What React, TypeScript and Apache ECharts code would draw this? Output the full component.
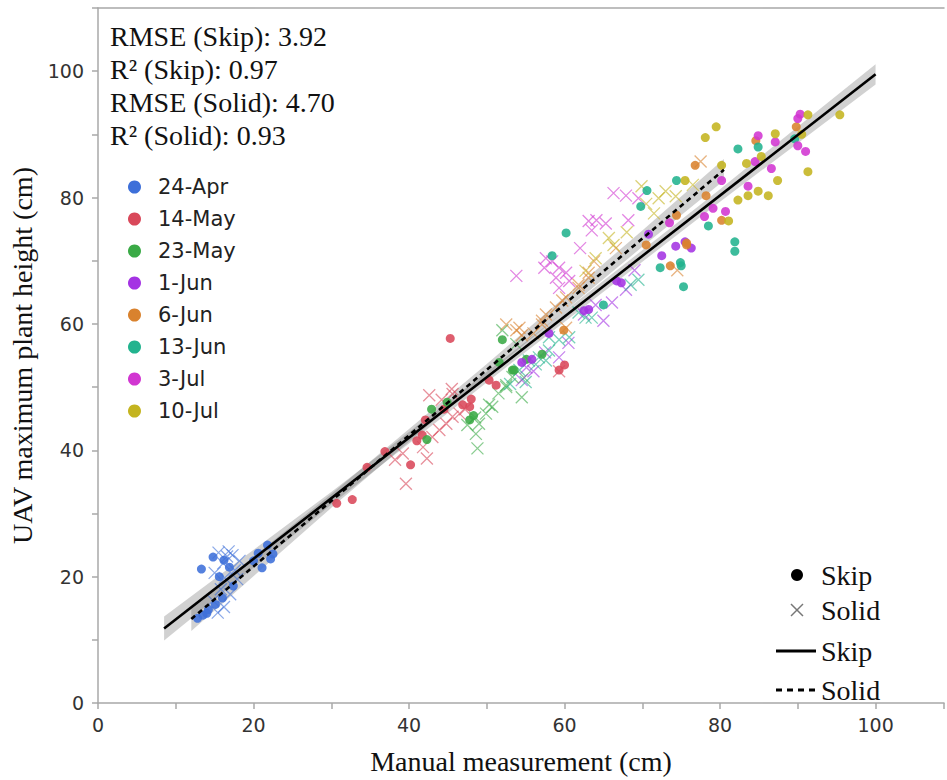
import React, { useEffect, useRef } from "react";
import * as echarts from "echarts";

const dates = ["24-Apr", "14-May", "23-May", "1-Jun", "6-Jun", "13-Jun", "3-Jul", "10-Jul"];
const dateColors = ["#3d6fd9", "#d9485a", "#3aaa46", "#a433e3", "#d9822e", "#22b38e", "#d136d1", "#c4b41f"];

const apr24Skip = [[12.8,13.4],[13.5,13.9],[14.2,14.8],[15.1,15.6],[16.0,16.6],[13.3,21.2],[14.8,23.1],[16.2,22.6],[16.9,21.5],[15.6,20.0],[20.6,23.7],[21.8,25.0],[22.5,23.6],[21.1,21.4],[22.2,22.8],[20.0,22.5],[17.4,18.5],[14.0,14.2]];
const apr24Solid = [[15.5,23.8],[16.8,24.0],[17.3,23.4],[16.1,22.1],[17.6,21.0],[15.0,20.6],[16.3,19.8],[17.9,19.6],[15.4,14.3],[16.2,15.2],[17.0,17.2],[14.8,16.2],[18.2,22.5],[15.8,18.0],[16.6,23.2]];
const may14Skip = [[45.3,57.7],[30.7,31.6],[32.7,32.2],[34.6,37.3],[36.9,39.8],[40.2,37.7],[41.0,41.5],[41.7,42.4],[42.1,44.8],[46.9,47.2],[48.0,48.1],[47.8,46.9],[51.2,50.3],[50.3,51.1],[44.5,46.5],[59.3,52.7],[60.0,53.5]];
const may14Solid = [[42.6,48.7],[45.5,49.7],[45.6,48.9],[38.2,38.5],[39.2,39.5],[42.3,38.7],[39.6,34.7],[43.9,43.2],[44.8,44.2],[45.6,45.3],[43.0,42.1],[46.5,45.8],[41.8,40.5],[59.3,52.5],[47.2,46.5],[44.2,48.0]];
const may23Skip = [[42.9,46.5],[44.9,47.6],[42.3,41.7],[47.8,44.8],[52.0,57.5],[53.3,52.7],[51.6,53.9],[57.1,55.2],[55.1,54.4],[53.5,52.7],[48.3,45.5]];
const may23Solid = [[48.8,40.3],[48.6,42.6],[49.0,44.2],[49.9,45.8],[50.7,46.9],[52.5,50.3],[54.5,48.4],[53.3,51.6],[52.0,59.0],[50.3,47.2],[52.5,50.0],[53.8,56.8],[48.5,45.2],[51.5,49.0],[54.8,51.5],[47.5,44.0]];
const jun1Skip = [[63.1,62.3],[62.5,62.1],[54.5,53.9],[55.8,54.4],[66.7,66.8],[67.3,66.5],[72.5,70.8],[74.3,72.3],[76.3,72.0],[75.5,73.0],[70.8,74.2],[58.0,58.5]];
const jun1Solid = [[59.3,54.7],[54.5,51.1],[55.1,53.1],[66.1,63.4],[67.9,65.4],[62.5,61.5],[64.0,63.0],[57.5,55.5],[65.0,60.5],[69.0,68.5],[56.0,52.5],[60.5,57.0]];
const jun6Skip = [[76.8,85.1],[78.2,80.3],[74.4,77.2],[75.7,72.5],[73.6,69.2],[80.2,76.4],[84.6,89.0],[89.8,91.2],[75.7,72.8],[59.9,59.0],[70.5,72.5]];
const jun6Solid = [[52.5,59.9],[54.2,59.4],[57.1,60.5],[66.6,72.0],[63.1,67.3],[61.8,65.7],[60.2,64.2],[57.6,61.5],[57.1,59.9],[53.8,59.0],[54.5,58.2],[58.9,62.6],[59.7,63.7],[61.8,66.2],[63.1,68.1],[63.8,69.9],[60.2,59.4],[74.5,68.5],[77.5,85.7],[56.0,58.5]];
const jun13Skip = [[82.3,87.7],[84.9,88.0],[74.4,82.7],[70.6,81.1],[78.5,75.5],[81.9,73.0],[81.9,71.5],[72.3,68.9],[74.9,69.7],[75.3,65.9],[89.6,89.3],[60.2,74.4],[58.4,70.8],[69.8,78.6],[75.0,69.2],[65.0,63.0]];
const jun13Solid = [[61.8,61.8],[62.7,61.0],[60.6,57.9],[59.3,57.5],[57.6,54.2],[56.3,53.6],[69.5,67.0],[68.5,66.2],[54.2,52.7],[55.4,54.2],[56.7,54.7],[58.0,55.8],[58.0,57.9],[63.5,61.0],[53.0,50.5],[55.0,50.8]];
const jul3Skip = [[90.3,93.2],[90.0,92.5],[90.0,88.2],[91.0,87.3],[84.9,89.8],[87.1,88.8],[84.5,85.7],[86.6,84.6],[83.6,81.8],[79.1,78.3],[80.7,77.8],[80.2,82.7],[73.5,76.0],[78.0,77.0]];
const jul3Solid = [[66.3,80.7],[67.9,80.3],[69.5,79.9],[63.1,76.3],[64.1,76.4],[65.3,75.9],[68.2,76.4],[63.5,74.8],[57.6,70.4],[58.4,69.9],[59.3,68.9],[57.4,68.9],[60.2,68.1],[58.9,67.3],[60.6,66.8],[59.3,65.7],[53.8,67.6],[62.0,72.0]];
const jul10Skip = [[78.1,89.5],[79.5,91.2],[95.4,93.1],[91.3,93.1],[91.3,84.1],[87.4,82.7],[86.2,80.3],[84.9,81.0],[83.6,80.3],[82.3,79.6],[83.4,85.4],[87.1,90.1],[75.5,82.7],[80.2,85.1],[81.1,76.3],[85.3,86.5],[90.5,90.0]];
const jul10Solid = [[69.9,81.8],[73.0,81.0],[72.1,79.9],[74.3,80.2],[65.7,73.6],[66.3,72.5],[64.0,70.4],[62.7,68.4],[70.5,79.0],[71.5,77.5],[76.5,82.0],[68.0,74.5]];

const skipData = [apr24Skip, may14Skip, may23Skip, jun1Skip, jun6Skip, jun13Skip, jul3Skip, jul10Skip];
const solidData = [apr24Solid, may14Solid, may23Solid, jun1Solid, jun6Solid, jun13Solid, jul3Solid, jul10Solid];

const skipFit = [[8.5, 11.8], [100, 99.5]];
const solidFit = [[12, 13.3], [80.5, 84.4]];
const skipBandX = [8.5, 30, 55, 80, 100];
const skipBandHalf = [1.9, 1.0, 0.8, 1.0, 1.6];
const solidBandX = [12, 30, 50, 70, 80.5];
const solidBandHalf = [1.9, 1.1, 0.9, 1.3, 1.7];

const statLines = ["RMSE (Skip): 3.92", "R\u00b2 (Skip): 0.97", "RMSE (Solid): 4.70", "R\u00b2 (Solid): 0.93"];
const typeLegend = ["Skip", "Solid", "Skip", "Solid"];

const CROSS = "path://M0,0L10,10M10,0L0,10";
const SERIF = "'Liberation Serif', 'Times New Roman', serif";
const SANS = "'DejaVu Sans', Verdana, sans-serif";

function lineAt(fit: number[][], x: number) {
  const [a, b] = fit;
  return a[1] + ((x - a[0]) * (b[1] - a[1])) / (b[0] - a[0]);
}

function bandSeries(fit: number[][], xs: number[], halves: number[]) {
  const upper = xs.map((x, i) => [x, lineAt(fit, x) + halves[i]]);
  const lower = xs.map((x, i) => [x, lineAt(fit, x) - halves[i]]).reverse();
  return {
    type: "custom",
    silent: true,
    z: 2,
    data: [[xs[0], lineAt(fit, xs[0])]],
    renderItem: (params: any, api: any) => {
      const pts = [...upper, ...lower].map((p) => api.coord(p));
      return {
        type: "polygon",
        shape: { points: pts },
        style: { fill: "rgba(90,90,90,0.28)", stroke: "none" },
      };
    },
  };
}

export default function App() {
  const ref = useRef<HTMLDivElement>(null);
  useEffect(() => {
    if (!ref.current) return;
    const chart = echarts.init(ref.current, null, { renderer: "svg" });
    const series: any[] = [];
    solidData.forEach((d, i) => {
      series.push({
        type: "scatter",
        name: dates[i],
        data: d,
        symbol: CROSS,
        symbolSize: 12,
        z: 3,
        itemStyle: { color: "none", borderColor: dateColors[i], borderWidth: 1.3, opacity: 0.6 },
      });
    });
    skipData.forEach((d, i) => {
      series.push({
        type: "scatter",
        name: dates[i],
        data: d,
        symbol: "circle",
        symbolSize: 9,
        z: 4,
        itemStyle: { color: dateColors[i], opacity: 0.88 },
      });
    });
    series.push(bandSeries(skipFit, skipBandX, skipBandHalf));
    series.push(bandSeries(solidFit, solidBandX, solidBandHalf));
    series.push({
      type: "line",
      data: skipFit,
      symbol: "none",
      z: 6,
      silent: true,
      lineStyle: { color: "#000", width: 2.6 },
    });
    series.push({
      type: "line",
      data: solidFit,
      symbol: "none",
      z: 6,
      silent: true,
      lineStyle: { color: "#000", width: 2.6, type: [5, 4] },
    });

    const axisCommon = {
      type: "value",
      interval: 10,
      min: 0,
      splitLine: { show: false },
      axisLine: { show: true, lineStyle: { color: "#a8a8a8", width: 1.5 } },
      axisTick: { show: true, length: 6, lineStyle: { color: "#a8a8a8", width: 1.5 } },
      nameLocation: "middle",
      nameTextStyle: { fontFamily: SERIF, fontSize: 28, color: "#111" },
    };

    const graphic: any[] = [];
    statLines.forEach((t, i) => {
      graphic.push({
        type: "text",
        left: 110,
        top: 22 + i * 33,
        style: { text: t, font: `28px ${SERIF}`, fill: "#111" },
      });
    });
    const ly = [575, 610, 651, 690];
    graphic.push({ type: "circle", shape: { cx: 797, cy: ly[0], r: 6 }, style: { fill: "#000" } });
    graphic.push({ type: "line", shape: { x1: 791, y1: ly[1] - 6, x2: 803, y2: ly[1] + 6 }, style: { stroke: "#777", lineWidth: 1.5 } });
    graphic.push({ type: "line", shape: { x1: 791, y1: ly[1] + 6, x2: 803, y2: ly[1] - 6 }, style: { stroke: "#777", lineWidth: 1.5 } });
    graphic.push({ type: "line", shape: { x1: 776, y1: ly[2], x2: 816, y2: ly[2] }, style: { stroke: "#000", lineWidth: 3 } });
    graphic.push({ type: "line", shape: { x1: 776, y1: ly[3], x2: 816, y2: ly[3] }, style: { stroke: "#000", lineWidth: 3, lineDash: [6, 5] } });
    typeLegend.forEach((t, i) => {
      graphic.push({
        type: "text",
        x: 821,
        y: ly[i],
        style: { text: t, font: `28px ${SERIF}`, fill: "#111", verticalAlign: "middle", align: "left" },
      });
    });

    chart.setOption({
      animation: false,
      backgroundColor: "#fff",
      grid: { left: 97, right: 0, top: 8, bottom: 72, containLabel: false },
      xAxis: [
        {
          ...axisCommon,
          max: 108.8,
          name: "Manual measurement (cm)",
          nameGap: 44,
          axisLabel: {
            margin: 12,
            fontFamily: SANS,
            fontSize: 19,
            color: "#333",
            formatter: (v: number) => (v % 20 === 0 && v <= 100 ? String(v) : ""),
          },
        },
        {
          type: "value",
          position: "top",
          min: 0,
          max: 108.8,
          axisLine: { show: true, onZero: false, lineStyle: { color: "#a8a8a8", width: 1.5 } },
          axisTick: { show: false },
          axisLabel: { show: false },
          splitLine: { show: false },
        },
      ],
      yAxis: {
        ...axisCommon,
        max: 110,
        name: "UAV maximum plant height (cm)",
        nameGap: 62,
        axisLabel: {
          margin: 14,
          fontFamily: SANS,
          fontSize: 19,
          color: "#333",
          formatter: (v: number) => (v % 20 === 0 && v <= 100 ? String(v) : ""),
        },
      },
      legend: {
        orient: "vertical",
        left: 123,
        top: 171,
        itemWidth: 13,
        itemHeight: 13,
        itemGap: 10,
        selectedMode: false,
        textStyle: { fontFamily: SANS, fontSize: 21, color: "#222", lineHeight: 22, padding: [0, 0, 0, 12] },
        data: dates.map((d, i) => ({
          name: d,
          icon: "circle",
          itemStyle: { color: dateColors[i], borderWidth: 0, opacity: 1 },
        })),
      },
      graphic,
      series,
    });
    return () => chart.dispose();
  }, []);
  return (
    <div
      ref={ref}
      style={{ position: "fixed", left: 0, top: 0, width: 947, height: 780, background: "#fff" }}
    />
  );
}
